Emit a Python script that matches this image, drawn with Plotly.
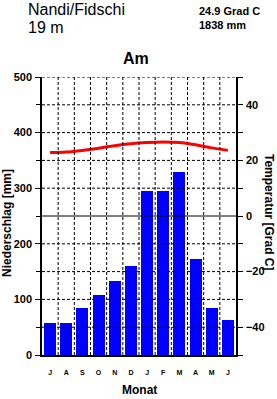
import plotly.graph_objects as go

months = ["J", "A", "S", "O", "N", "D", "J", "F", "M", "A", "M", "J"]
precip = [57, 57, 85, 108, 134, 160, 295, 295, 330, 172, 85, 63]
temp = [22.8, 23.0, 23.6, 24.4, 25.3, 26.0, 26.4, 26.6, 26.4, 25.6, 24.5, 23.6]
station = "Nandi/Fidschi"
elevation = "19 m"
mean_temp = "24.9 Grad C"
total_precip = "1838 mm"
climate = "Am"

x = list(range(len(months)))
FONT = "Liberation Sans"

fig = go.Figure()
fig.add_trace(go.Bar(x=x, y=precip, marker=dict(color="#0000FF", line=dict(width=0)),
                     width=0.75, yaxis="y", showlegend=False))
fig.add_trace(go.Scatter(x=x, y=temp, mode="lines", line=dict(color="#FF0000", width=3, shape="spline"),
                         yaxis="y2", showlegend=False))

shapes = []
for v in range(50, 501, 50):
    shapes.append(dict(type="line", xref="paper", yref="y", x0=0, x1=1, y0=v, y1=v,
                       line=dict(color="black", width=1, dash="solid" if v == 250 else "3px,2px"),
                       layer="above"))
for b in range(len(months) - 1):
    shapes.append(dict(type="line", xref="x", yref="y", x0=b + 0.5, x1=b + 0.5, y0=0, y1=500,
                       line=dict(color="black", width=1, dash="3px,2px"), layer="above"))

tickfont = dict(family=FONT, size=11, color="black", weight="bold")

fig.update_layout(
    width=277, height=399,
    margin=dict(l=42, r=41, t=77, b=44),
    paper_bgcolor="white", plot_bgcolor="white",
    bargap=0,
    shapes=shapes,
    xaxis=dict(range=[-0.5, 11.5], tickvals=x, ticktext=months, ticks="", showgrid=False,
               showline=True, linecolor="black", linewidth=1.5, zeroline=False,
               tickfont=dict(family=FONT, size=7, color="black", weight="bold"),
               ticklabelstandoff=10, fixedrange=True),
    yaxis=dict(range=[0, 500], tickvals=[0, 100, 200, 300, 400, 500], ticks="outside", ticklen=5,
               tickwidth=1, tickcolor="black", showgrid=False, zeroline=False, showline=True,
               linecolor="black", linewidth=1.5, tickfont=tickfont, ticklabelstandoff=1,
               minor=dict(tickvals=[50, 150, 250, 350, 450], ticks="outside", ticklen=4,
                          tickcolor="black", tickwidth=1, showgrid=False)),
    yaxis2=dict(range=[-50, 50], overlaying="y", side="right", tickvals=[-40, -20, 0, 20, 40],
                ticks="outside", ticklen=5, tickwidth=1, tickcolor="black", showgrid=False,
                zeroline=False, showline=True, linecolor="black", linewidth=1.5,
                tickfont=tickfont, ticklabelstandoff=1,
                minor=dict(tickvals=[-50, -30, -10, 10, 30, 50], ticks="outside", ticklen=5,
                           tickcolor="black", tickwidth=1, showgrid=False)),
    annotations=[
        dict(text=station, x=26, y=10, showarrow=False,
             xanchor="left", yanchor="middle", font=dict(family=FONT, size=16, color="black")),
        dict(text=elevation, x=26, y=27, showarrow=False, xanchor="left", yanchor="middle",
             font=dict(family=FONT, size=16, color="black")),
        dict(text=mean_temp, x=197, y=11, showarrow=False, xanchor="left", yanchor="middle",
             font=dict(family=FONT, size=11, color="black", weight="bold")),
        dict(text=total_precip, x=197, y=25, showarrow=False, xanchor="left", yanchor="middle",
             font=dict(family=FONT, size=11, color="black", weight="bold")),
        dict(text=climate, x=136, y=59, showarrow=False, xanchor="center", yanchor="middle",
             font=dict(family=FONT, size=16, color="black", weight="bold")),
        dict(text="Monat", x=139, y=390, showarrow=False, xanchor="center", yanchor="middle",
             font=dict(family=FONT, size=12, color="black", weight="bold")),
        dict(text="Niederschlag [mm]", x=7, y=223, showarrow=False, textangle=-90,
             xanchor="center", yanchor="middle",
             font=dict(family=FONT, size=12, color="black", weight="bold")),
        dict(text="Temperatur [Grad C]", x=269, y=212, showarrow=False, textangle=90,
             xanchor="center", yanchor="middle",
             font=dict(family=FONT, size=12, color="black", weight="bold")),
    ],
)

# convert pixel-placed annotations to paper coordinates
W, H = 277, 399
L, R, T, B = 42, 41, 77, 44
pw, ph = W - L - R, H - T - B
new_ann = []
for a in fig.layout.annotations:
    px, py = a.x, a.y
    a.update(xref="paper", yref="paper", x=(px - L) / pw, y=1 - (py - T) / ph)
    new_ann.append(a)
fig.layout.annotations = new_ann

fig.write_html("out.html")
